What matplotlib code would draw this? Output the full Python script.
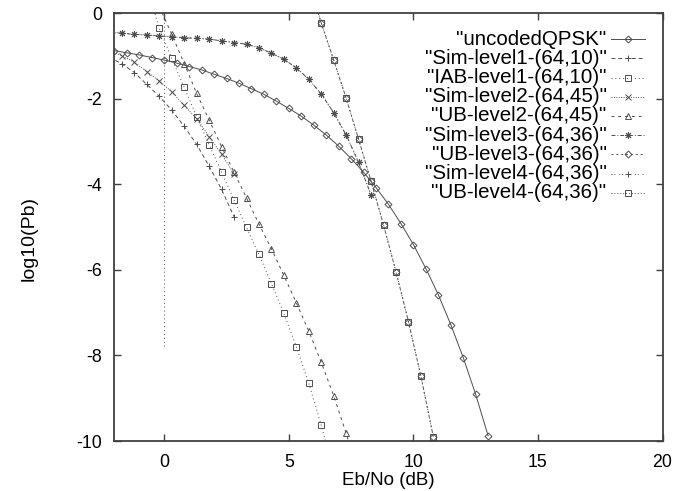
import matplotlib
matplotlib.use("Agg")
import matplotlib.pyplot as plt

plt.rcParams["font.family"] = ["Liberation Sans", "DejaVu Sans"]
plt.rcParams["axes.unicode_minus"] = False

# values: Eb/No (dB) vs log10(Pb)
snr_uncoded = [-2.0, -1.5, -1.0, -0.5, 0.0, 0.5, 1.0, 1.5, 2.0, 2.5, 3.0, 3.5, 4.0, 4.5, 5.0,
               5.5, 6.0, 6.5, 7.0, 7.5, 8.0, 8.5, 9.0, 9.5, 10.0, 10.5, 11.0, 11.5, 12.0, 12.5, 13.0]
pb_uncoded = [-0.88, -0.93, -0.98, -1.04, -1.10, -1.17, -1.25, -1.33, -1.43, -1.53, -1.64, -1.77,
              -1.90, -2.06, -2.23, -2.41, -2.62, -2.85, -3.11, -3.40, -3.72, -4.08, -4.47, -4.92,
              -5.41, -5.97, -6.58, -7.28, -8.05, -8.91, -9.88]

snr_sim = [-2.2, -1.7, -1.2, -0.7, -0.2, 0.3, 0.8, 1.3, 1.8, 2.3, 2.8]
pb_sim1 = [-1.03, -1.19, -1.39, -1.67, -1.95, -2.27, -2.65, -3.07, -3.58, -4.12, -4.76]
pb_sim2 = [-0.86, -1.00, -1.15, -1.37, -1.59, -1.84, -2.16, -2.47, -2.89, -3.30, -3.76]

snr_iab1 = [-0.7, -0.2, 0.3, 0.8, 1.3, 1.8, 2.3, 2.8, 3.3, 3.8, 4.3, 4.8, 5.3, 5.8, 6.3, 6.8]
pb_iab1 = [0.64, -0.36, -1.06, -1.74, -2.42, -3.08, -3.72, -4.37, -5.01, -5.64, -6.32, -7.02,
           -7.80, -8.65, -9.63, -10.7]

snr_ub2 = [-0.2, 0.3, 0.8, 1.3, 1.8, 2.3, 2.8, 3.3, 3.8, 4.3, 4.8, 5.3, 5.8, 6.3, 6.8, 7.3, 7.8]
pb_ub2 = [0.15, -0.50, -1.18, -1.88, -2.50, -3.12, -3.72, -4.32, -4.93, -5.51, -6.13, -6.77,
          -7.43, -8.16, -8.94, -9.82, -10.8]

# level 3 and level 4 use the same (64,36) code, the curves sit on top of each other
snr_sim34 = [-2.2, -1.7, -1.2, -0.7, -0.2, 0.3, 0.8, 1.3, 1.8, 2.3, 2.8, 3.3, 3.8, 4.3, 4.8,
             5.3, 5.8, 6.3, 6.8, 7.3, 7.8, 8.3]
pb_sim34 = [-0.45, -0.47, -0.50, -0.51, -0.54, -0.55, -0.58, -0.59, -0.61, -0.65, -0.69, -0.73,
            -0.81, -0.94, -1.08, -1.28, -1.55, -1.89, -2.33, -2.85, -3.49, -4.25]

snr_ub34 = [5.8, 6.3, 6.8, 7.3, 7.8, 8.3, 8.8, 9.3, 9.8, 10.3, 10.8]
pb_ub34 = [0.70, -0.23, -1.10, -1.99, -2.95, -3.93, -4.95, -6.04, -7.21, -8.48, -9.90]

# stray vertical dotted trace at 0 dB
snr_vline = [0.0, 0.0]
pb_vline = [0.5, -7.8]

labels = ['"uncodedQPSK"', '"Sim-level1-(64,10)"', '"IAB-level1-(64,10)"',
          '"Sim-level2-(64,45)"', '"UB-level2-(64,45)"', '"Sim-level3-(64,36)"',
          '"UB-level3-(64,36)"', '"Sim-level4-(64,36)"', '"UB-level4-(64,36)"']

series = [
    (snr_uncoded, pb_uncoded, dict(ls="-", marker="D", ms=3.5)),
    (snr_sim, pb_sim1, dict(ls=(0, (4, 3)), marker="+", ms=5)),
    (snr_iab1, pb_iab1, dict(ls=(0, (1, 3)), marker="s", ms=5)),
    (snr_sim, pb_sim2, dict(ls=(0, (1, 1.5)), marker="x", ms=5)),
    (snr_ub2, pb_ub2, dict(ls=(0, (3, 4)), marker="^", ms=4.5)),
    (snr_sim34, pb_sim34, dict(ls=(0, (4, 2, 1, 2)), marker=(8, 2, 0), ms=5)),
    (snr_ub34, pb_ub34, dict(ls=(0, (2, 3)), marker="D", ms=3.5)),
    (snr_sim34, pb_sim34, dict(ls=(0, (1, 2, 1, 4)), marker="+", ms=5)),
    (snr_ub34, pb_ub34, dict(ls=(0, (1, 2)), marker="s", ms=5)),
]

fig = plt.figure(figsize=(6.73, 4.91), dpi=100)
ax = fig.add_axes([0.1701, 0.1018, 0.8143, 0.8717])

lc = "0.3"
common = dict(color=lc, lw=0.7, mfc="none", mec=lc, mew=0.7)

# gnuplot style key: right aligned text, short sample line with one marker
key_text_x = 0.898
key_line_x = [0.906, 0.968]
key_mark_x = 0.937
key_top = 0.939
key_step = 0.0449

for i, (xs, ys, st) in enumerate(series):
    ax.plot(xs, ys, **st, **common)
    ky = key_top - i * key_step
    ax.plot(key_line_x, [ky, ky], transform=ax.transAxes, clip_on=False,
            ls=st["ls"], color=lc, lw=0.7)
    ax.plot([key_mark_x], [ky], transform=ax.transAxes, clip_on=False, ls="none",
            marker=st["marker"], ms=st["ms"], mfc="none", mec=lc, mew=0.7)
    ax.text(key_text_x, ky, labels[i], transform=ax.transAxes, ha="right", va="center",
            fontsize=14.8)

ax.plot(snr_vline, pb_vline, ls=(0, (1, 3)), color=lc, lw=0.7)

ax.set_xlim(-2, 20)
ax.set_ylim(-10, 0)
ax.set_xticks([0, 5, 10, 15, 20])
ax.set_yticks([0, -2, -4, -6, -8, -10])
ax.tick_params(direction="in", top=True, right=True, length=5, width=1,
               labelsize=12.8, color="0.25")
ax.tick_params(axis="y", pad=9)
ax.tick_params(axis="x", pad=9)
for s in ax.spines.values():
    s.set_linewidth(1.3)
    s.set_color("0.25")

ax.set_xlabel("Eb/No (dB)", fontsize=13.5)
ax.set_ylabel("log10(Pb)", fontsize=14)
ax.xaxis.set_label_coords(0.5, -0.072)
ax.yaxis.set_label_coords(-0.141, 0.473)

fig.savefig("out.png", dpi=100)
